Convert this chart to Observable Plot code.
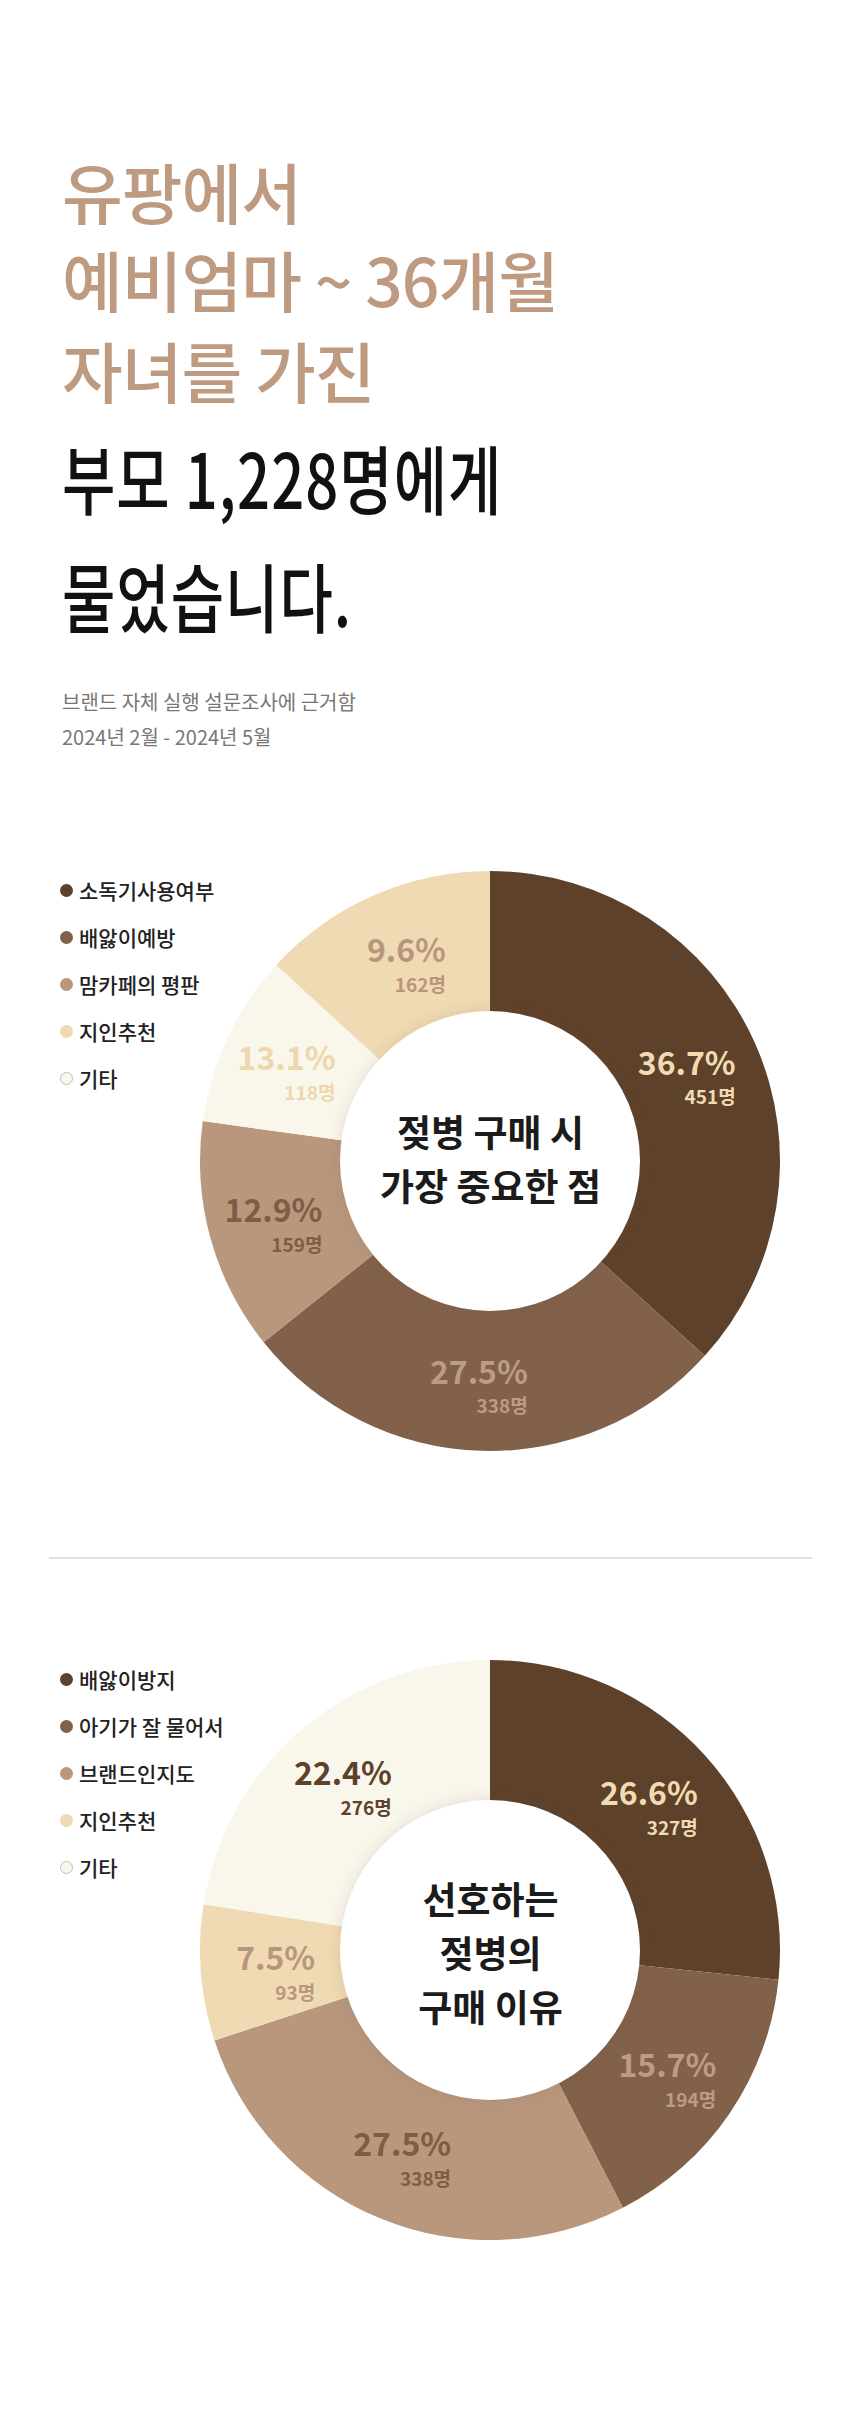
<!DOCTYPE html>
<html>
<head>
<meta charset="utf-8">
<script src="https://cdn.jsdelivr.net/npm/d3@7"></script>
<script src="https://cdn.jsdelivr.net/npm/@observablehq/plot@0.6"></script>
<style>
  body { margin: 0; background: #fff; font-family: "Noto Sans CJK KR", "Noto Sans", sans-serif; }
  #page { position: relative; width: 860px; height: 2426px; overflow: hidden; background: #fff; }
  .t { position: absolute; left: 62px; white-space: nowrap; }
  .title { color: #BE9B80; font-size: 66px; font-weight: 500; line-height: 66px; letter-spacing: -1px; }
  .hand { color: #111; font-size: 58px; font-weight: 500; line-height: 58px; transform: scaleY(1.3); transform-origin: left center; letter-spacing: 1px; }
  .sub { color: #777; font-size: 20px; font-weight: 400; line-height: 20px; }
  .chart { position: absolute; left: 0; width: 860px; height: 640px; }
  .legend { position: absolute; left: 0; top: 0; }
  .item { position: absolute; left: 60px; display: flex; align-items: center; height: 30px; white-space: nowrap;
          font-size: 21px; font-weight: 500; color: #222; }
  .dot { width: 13px; height: 13px; border-radius: 50%; margin-right: 6px; box-sizing: border-box; }
  .sep { position: absolute; left: 49px; width: 763px; height: 2px; background: #e0e0e0; top: 1557px; }
</style>
</head>
<body>
<div id="page">
  <div class="t title" style="top:157px">유팡에서</div>
  <div class="t title" style="top:245px">예비엄마 ~ 36개월</div>
  <div class="t title" style="top:336px">자녀를 가진</div>
  <div class="t hand" style="top:448px">부모 1,228명에게</div>
  <div class="t hand" style="top:566px">물었습니다.</div>
  <div class="t sub" style="top:692px">브랜드 자체 실행 설문조사에 근거함</div>
  <div class="t sub" style="top:727px">2024년 2월 - 2024년 5월</div>
  <div class="chart" id="chart1" style="top:841px"></div>
  <div class="sep"></div>
  <div class="chart" id="chart2" style="top:1630px"></div>
</div>
<script>
// ---------- data (clockwise slice order from 12 o'clock) ----------
const categories1 = ["소독기사용여부", "배앓이예방", "맘카페의 평판", "기타", "지인추천"];
const percents1   = [36.7, 27.5, 12.9, 13.1, 9.6];
const counts1     = [451, 338, 159, 118, 162];
const legend1     = ["소독기사용여부", "배앓이예방", "맘카페의 평판", "지인추천", "기타"];
const center1     = "젖병 구매 시\n가장 중요한 점";

const categories2 = ["배앓이방지", "아기가 잘 물어서", "브랜드인지도", "지인추천", "기타"];
const percents2   = [26.6, 15.7, 27.5, 7.5, 22.4];
const counts2     = [327, 194, 338, 93, 276];
const legend2     = ["배앓이방지", "아기가 잘 물어서", "브랜드인지도", "지인추천", "기타"];
const center2     = "선호하는\n젖병의\n구매 이유";

// ---------- styles ----------
const DARK = "#5E412A", MED = "#81614A", LIGHT = "#B8977D", BEIGE = "#EFDAB3", CREAM = "#F9F6EC";
const colors1 = {"소독기사용여부": DARK, "배앓이예방": MED, "맘카페의 평판": LIGHT, "지인추천": BEIGE, "기타": CREAM};
const colors2 = {"배앓이방지": DARK, "아기가 잘 물어서": MED, "브랜드인지도": LIGHT, "지인추천": BEIGE, "기타": CREAM};
// label colour depends on the slice colour it sits on
const labelOn = {[DARK]: "#F0DCB3", [MED]: "#BC9C82", [LIGHT]: "#7C5D46", [BEIGE]: "#B8967D", [CREAM]: "#EED7AC"};
const labelOverride2 = {"기타": "#5E412A"};

const OUTER = 290 / 320, INNER = 150 / 320, LABEL_R = 220 / 320;

let filterCount = 0;
function donutMark(rows) {
  return (index, scales) => {
    const cx = scales.x(0), cy = scales.y(0);
    const ro = Math.abs(scales.x(OUTER) - cx), ri = Math.abs(scales.x(INNER) - cx);
    const arcs = d3.pie().sort(null).value(d => d.count)(rows);
    const arc = d3.arc().innerRadius(ri - 2).outerRadius(ro);
    const g = d3.create("svg:g").attr("transform", `translate(${cx},${cy})`);
    const id = "innerShadow" + (++filterCount);
    const f = g.append("defs").append("filter").attr("id", id)
      .attr("x", "-30%").attr("y", "-30%").attr("width", "160%").attr("height", "160%");
    f.append("feDropShadow").attr("dx", 0).attr("dy", 0).attr("stdDeviation", 7)
      .attr("flood-color", "#6b5040").attr("flood-opacity", 0.16);
    g.selectAll("path").data(arcs).join("path").attr("d", arc).attr("fill", d => d.data.color);
    g.append("circle").attr("r", ri).attr("fill", "#fff").attr("filter", `url(#${id})`);
    return g.node();
  };
}

function buildRows(categories, percents, counts, colors, override = {}) {
  const rows = categories.map((c, i) => ({category: c, pct: percents[i], count: counts[i], color: colors[c]}));
  const arcs = d3.pie().sort(null).value(d => d.count)(rows);
  arcs.forEach(a => {
    const mid = (a.startAngle + a.endAngle) / 2;
    a.data.lx = LABEL_R * Math.sin(mid);
    a.data.ly = LABEL_R * Math.cos(mid);
    a.data.labelColor = override[a.data.category] || labelOn[a.data.color];
  });
  return rows;
}

function drawChart(el, rows, centerText, legendOrder, colors, centerDy) {
  const plot = Plot.plot({
    width: 860, height: 640,
    marginLeft: 170, marginRight: 50, marginTop: 0, marginBottom: 0,
    x: {domain: [-1, 1], axis: null},
    y: {domain: [-1, 1], axis: null},
    color: {type: "identity"},
    style: {fontFamily: '"Noto Sans CJK KR", "Noto Sans", sans-serif', background: "transparent"},
    marks: [
      donutMark(rows),
      Plot.text(rows, {x: "lx", y: "ly", text: d => d.pct.toFixed(1) + "%", fill: "labelColor",
        textAnchor: "end", dx: 44, dy: -8, fontSize: 32, fontWeight: 700}),
      Plot.text(rows, {x: "lx", y: "ly", text: d => d.count + "명", fill: "labelColor",
        textAnchor: "end", dx: 44, dy: 26, fontSize: 19, fontWeight: 600}),
      Plot.text([centerText], {x: 0, y: 0, text: d => d, fill: "#1b1b1b", fontSize: 37,
        fontWeight: 700, lineHeight: 1.46, dy: centerDy})
    ]
  });
  el.appendChild(plot);
  const leg = document.createElement("div");
  leg.className = "legend";
  legendOrder.forEach((c, i) => {
    const it = document.createElement("div");
    it.className = "item";
    it.style.top = (49 + 47 * i - 15) + "px";
    const dot = document.createElement("span");
    dot.className = "dot";
    dot.style.background = colors[c];
    if (colors[c] === CREAM) dot.style.border = "1px solid #bdbdbd";
    const tx = document.createElement("span");
    tx.textContent = c;
    it.appendChild(dot); it.appendChild(tx);
    leg.appendChild(it);
  });
  el.appendChild(leg);
}

const rows1 = buildRows(categories1, percents1, counts1, colors1);
const rows2 = buildRows(categories2, percents2, counts2, colors2, labelOverride2);
drawChart(document.getElementById("chart1"), rows1, center1, legend1, colors1, -5);
drawChart(document.getElementById("chart2"), rows2, center2, legend2, colors2, 0);
</script>
</body>
</html>
